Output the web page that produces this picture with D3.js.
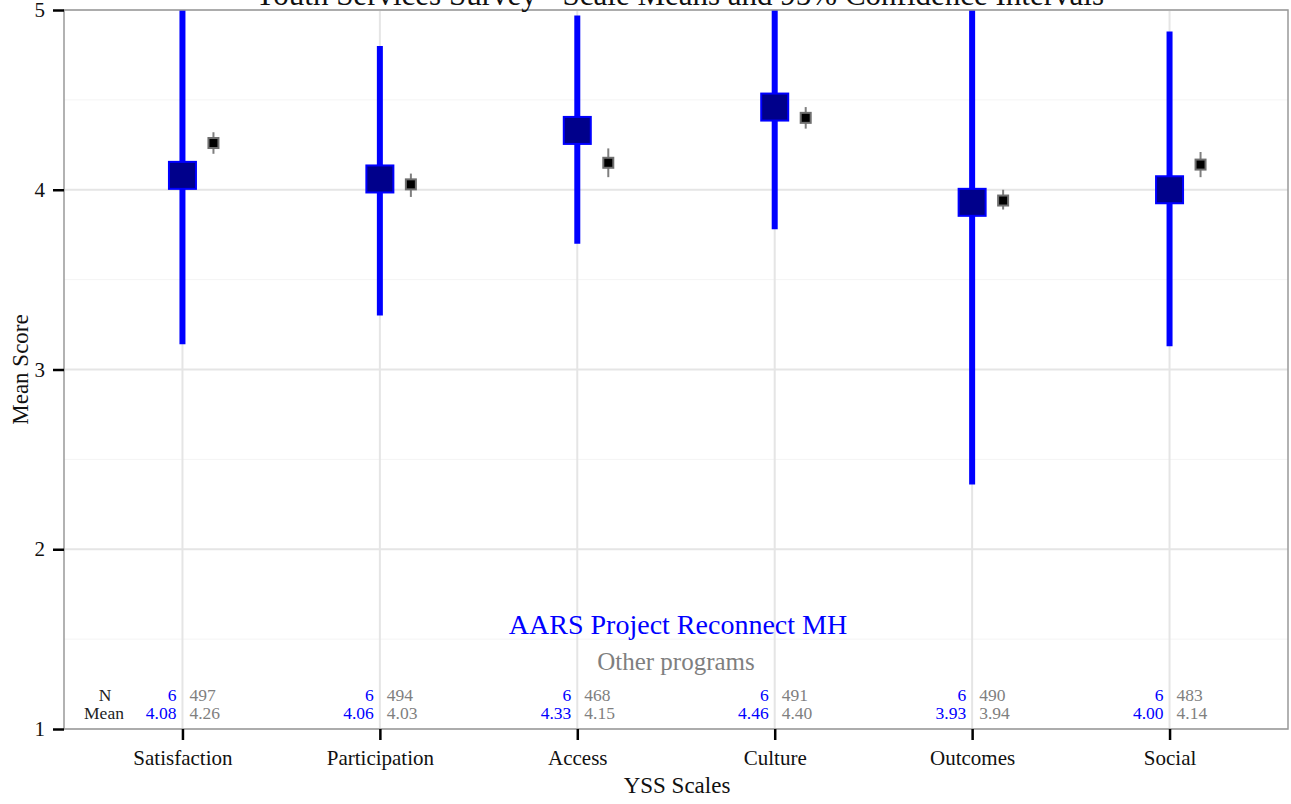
<!DOCTYPE html>
<html>
<head>
<meta charset="utf-8">
<script src="https://cdn.jsdelivr.net/npm/d3@7"></script>
<style>
  body { margin: 0; background: #fff; }
  text { font-family: "Liberation Serif", "Times New Roman", serif; }
</style>
</head>
<body>
<script>
// Scales and values
var categories = ["Satisfaction", "Participation", "Access", "Culture", "Outcomes", "Social"];
var progN      = [6, 6, 6, 6, 6, 6];
var progMean   = [4.08, 4.06, 4.33, 4.46, 3.93, 4.00];
var progLower  = [3.14, 3.30, 3.70, 3.78, 2.36, 3.13];
var progUpper  = [5.02, 4.80, 4.97, 5.14, 5.50, 4.88];
var otherN     = [497, 494, 468, 491, 490, 483];
var otherMean  = [4.26, 4.03, 4.15, 4.40, 3.94, 4.14];
var otherLower = [4.20, 3.96, 4.07, 4.34, 3.89, 4.07];
var otherUpper = [4.32, 4.09, 4.23, 4.46, 4.00, 4.21];
var yTicks      = [1, 2, 3, 4, 5];
var yMinorTicks = [1.5, 2.5, 3.5, 4.5];

var w = 1291, h = 804;
// panel edges (note: "top" is a reserved window global, so use pTop etc.)
var pLeft = 64, pRight = 1288, pTop = 10, pBottom = 729;
var dodge = 31;

var svg = d3.select('body')
            .append('svg')
            .attr('width', w)
            .attr('height', h);

var x = d3.scalePoint().domain(categories).range([pLeft, pRight]).padding(0.6);
var y = d3.scaleLinear().domain([1, 5]).range([pBottom, pTop]);

svg.append('clipPath').attr('id', 'panel')
  .append('rect')
  .attr('x', pLeft).attr('y', pTop)
  .attr('width', pRight - pLeft).attr('height', pBottom - pTop);

// grid
svg.selectAll('.minor')
  .data(yMinorTicks)
  .enter()
  .append('line')
  .attr('x1', pLeft).attr('x2', pRight)
  .attr('y1', d => y(d)).attr('y2', d => y(d))
  .attr('stroke', '#f4f4f4').attr('stroke-width', 1);

svg.selectAll('.major')
  .data(yTicks)
  .enter()
  .append('line')
  .attr('x1', pLeft).attr('x2', pRight)
  .attr('y1', d => y(d)).attr('y2', d => y(d))
  .attr('stroke', '#e5e5e5').attr('stroke-width', 2);

svg.selectAll('.vgrid')
  .data(categories)
  .enter()
  .append('line')
  .attr('x1', d => x(d)).attr('x2', d => x(d))
  .attr('y1', pTop).attr('y2', pBottom)
  .attr('stroke', '#e5e5e5').attr('stroke-width', 2);

var panel = svg.append('g').attr('clip-path', 'url(#panel)');

// this program: thick blue CI + big square
panel.selectAll('.progci')
  .data(categories)
  .enter()
  .append('line')
  .attr('x1', d => x(d)).attr('x2', d => x(d))
  .attr('y1', (d, i) => y(progLower[i]))
  .attr('y2', (d, i) => y(progUpper[i]))
  .attr('stroke', '#0000ff').attr('stroke-width', 6);

panel.selectAll('.progpt')
  .data(categories)
  .enter()
  .append('rect')
  .attr('x', d => x(d) - 13.5)
  .attr('y', (d, i) => y(progMean[i]) - 13.5)
  .attr('width', 27).attr('height', 27)
  .attr('fill', '#00008b')
  .attr('stroke', '#0000ff').attr('stroke-width', 2);

// other programs: thin gray CI + small square
panel.selectAll('.otherci')
  .data(categories)
  .enter()
  .append('line')
  .attr('x1', d => x(d) + dodge).attr('x2', d => x(d) + dodge)
  .attr('y1', (d, i) => y(otherLower[i]))
  .attr('y2', (d, i) => y(otherUpper[i]))
  .attr('stroke', '#7f7f7f').attr('stroke-width', 2);

panel.selectAll('.otherpt')
  .data(categories)
  .enter()
  .append('rect')
  .attr('x', d => x(d) + dodge - 5)
  .attr('y', (d, i) => y(otherMean[i]) - 5)
  .attr('width', 10).attr('height', 10)
  .attr('fill', '#000')
  .attr('stroke', '#6f6f6f').attr('stroke-width', 2);

// N / Mean table
var tSize = '17.5px';
svg.append('text').text('N')
  .attr('x', 105).attr('y', 701)
  .attr('text-anchor', 'middle').attr('font-size', tSize).attr('fill', '#222');
svg.append('text').text('Mean')
  .attr('x', 104).attr('y', 719)
  .attr('text-anchor', 'middle').attr('font-size', tSize).attr('fill', '#222');

svg.selectAll('.pn')
  .data(categories)
  .enter()
  .append('text')
  .text((d, i) => progN[i])
  .attr('x', d => x(d) - 6).attr('y', 701)
  .attr('text-anchor', 'end').attr('font-size', tSize).attr('fill', '#0000ff');
svg.selectAll('.pm')
  .data(categories)
  .enter()
  .append('text')
  .text((d, i) => progMean[i].toFixed(2))
  .attr('x', d => x(d) - 6).attr('y', 719)
  .attr('text-anchor', 'end').attr('font-size', tSize).attr('fill', '#0000ff');
svg.selectAll('.on')
  .data(categories)
  .enter()
  .append('text')
  .text((d, i) => otherN[i])
  .attr('x', d => x(d) + 7).attr('y', 701)
  .attr('font-size', tSize).attr('fill', '#7f7f7f');
svg.selectAll('.om')
  .data(categories)
  .enter()
  .append('text')
  .text((d, i) => otherMean[i].toFixed(2))
  .attr('x', d => x(d) + 7).attr('y', 719)
  .attr('font-size', tSize).attr('fill', '#7f7f7f');

// legend labels
svg.append('text').text('AARS Project Reconnect MH')
  .attr('x', 678).attr('y', 634)
  .attr('text-anchor', 'middle').attr('font-size', '28px').attr('fill', '#0000ff');
svg.append('text').text('Other programs')
  .attr('x', 676).attr('y', 670)
  .attr('text-anchor', 'middle').attr('font-size', '25px').attr('fill', '#7f7f7f');

// panel border
svg.append('rect')
  .attr('x', pLeft).attr('y', pTop)
  .attr('width', pRight - pLeft).attr('height', pBottom - pTop)
  .attr('fill', 'none').attr('stroke', '#999').attr('stroke-width', 1.5);

// axes
var yAxis = svg.append('g')
  .attr('transform', 'translate(' + pLeft + ',0)')
  .call(d3.axisLeft(y).tickValues(yTicks).tickSize(11).tickPadding(8).tickFormat(d3.format('d')));
yAxis.select('.domain').remove();
yAxis.selectAll('.tick line').attr('stroke', '#000').attr('stroke-width', 2.5);
yAxis.selectAll('.tick text')
  .attr('font-size', '21px').attr('fill', '#111')
  .attr('font-family', '"Liberation Serif", serif');

var xAxis = svg.append('g')
  .attr('transform', 'translate(0,' + pBottom + ')')
  .call(d3.axisBottom(x).tickSize(11).tickPadding(10));
xAxis.select('.domain').remove();
xAxis.selectAll('.tick line').attr('stroke', '#000').attr('stroke-width', 2.5);
xAxis.selectAll('.tick text')
  .attr('font-size', '21px').attr('fill', '#111')
  .attr('font-family', '"Liberation Serif", serif');

// titles
svg.append('text').text('Youth Services Survey - Scale Means and 95% Confidence Intervals')
  .attr('x', 679).attr('y', 5)
  .attr('text-anchor', 'middle').attr('font-size', '31px').attr('fill', '#111');
svg.append('text').text('YSS Scales')
  .attr('x', 677).attr('y', 793)
  .attr('text-anchor', 'middle').attr('font-size', '23px').attr('fill', '#111');
svg.append('text').text('Mean Score')
  .attr('transform', 'translate(28,' + ((pTop + pBottom) / 2) + ') rotate(-90)')
  .attr('text-anchor', 'middle').attr('font-size', '23px').attr('fill', '#111');
</script>
</body>
</html>
